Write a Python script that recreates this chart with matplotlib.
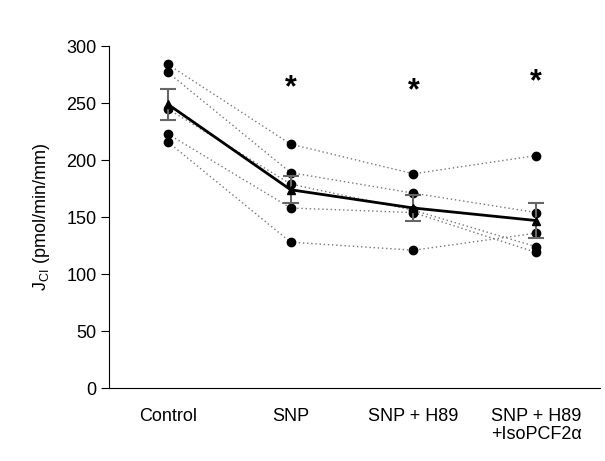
import numpy as np
import matplotlib
matplotlib.use("Agg")
import matplotlib.pyplot as plt

plt.rcParams['font.family'] = ['Liberation Sans', 'DejaVu Sans']

groups = ["Control", "SNP", "SNP + H89", "SNP + H89\n+IsoPCF2\u03b1"]

# individual animals, one row per subject
subj_a = [284, 214, 188, 204]
subj_b = [277, 189, 171, 154]
subj_c = [245, 179, 156, 124]
subj_d = [223, 158, 154, 119]
subj_e = [216, 128, 121, 136]
subjects = [subj_a, subj_b, subj_c, subj_d, subj_e]

means = [249, 174, 158, 147]
sem = [13.5, 12, 11, 15]
star_y = [263, 260, 268]

x = np.arange(len(groups))

fig = plt.figure(figsize=(6.05, 4.61), dpi=100)
ax = fig.add_axes([0.18, 0.158, 0.812, 0.742])

for s in subjects:
	ax.plot(x, s, linestyle=(0, (1, 2)), color="#777777", lw=1.0,
		marker="o", ms=6, mfc="black", mec="black", zorder=2)

ax.errorbar(x, means, yerr=sem, fmt="none", ecolor="#666666", elinewidth=1.5,
	capsize=6, capthick=1.5, zorder=3)
ax.plot(x, means, color="black", lw=2, marker="^", ms=6, mfc="black",
	mec="black", zorder=4)

for xi, yi in zip(x[1:], star_y):
	ax.text(xi, yi, "*", ha="center", va="center", fontsize=22,
		fontweight="bold")

ax.set_xlim(-0.48, 3.52)
ax.set_ylim(0, 300)
ax.set_yticks(range(0, 301, 50))
ax.set_xticks(x)
ax.set_xticklabels(groups, fontsize=13, va="top", linespacing=1.1)
ax.tick_params(axis="x", length=0, pad=14)
ax.tick_params(axis="y", labelsize=13, length=6, direction="out", pad=3)
for lbl in ax.get_xticklabels():
	lbl.set_multialignment("left")
ax.set_ylabel(r"J$_{\mathregular{CI}}$ (pmol/min/mm)", fontsize=13, labelpad=10)

ax.spines["top"].set_visible(False)
ax.spines["right"].set_visible(False)

fig.savefig("out.png", dpi=100)
